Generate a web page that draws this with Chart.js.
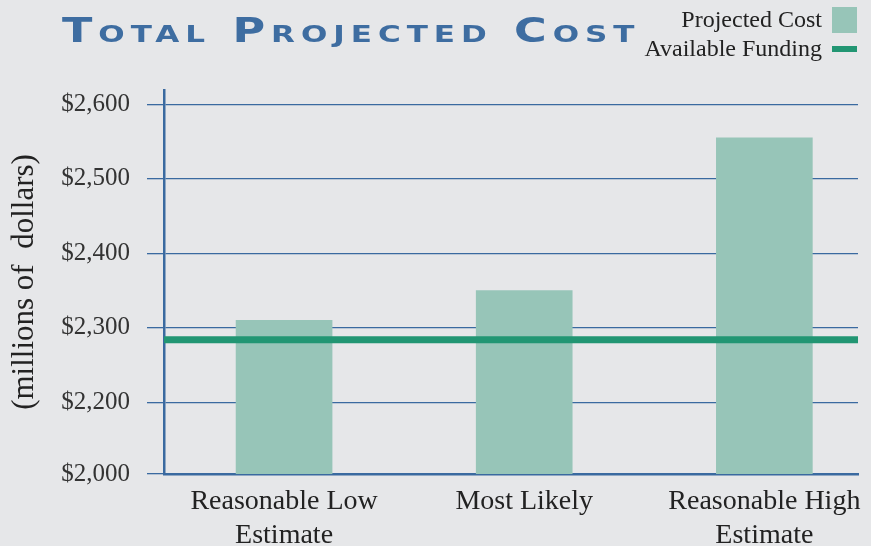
<!DOCTYPE html>
<html>
<head>
<meta charset="utf-8">
<script src="https://cdn.jsdelivr.net/npm/chart.js@4.4.0/dist/chart.umd.min.js"></script>
<style>
  html, body { margin: 0; padding: 0; background: #e6e7e9; }
  #wrap { position: relative; width: 871px; height: 546px; overflow: hidden; }
  #title {
    position: absolute; left: 62px; top: 11px;
    font-family: "DejaVu Sans", sans-serif; font-weight: bold;
    font-variant: small-caps; font-size: 33px; letter-spacing: 4.4px;
    transform: scaleX(1.35); transform-origin: left top;
    color: #3e6da1; white-space: nowrap;
  }
  .leg {
    position: absolute; right: 49px; font-family: "Liberation Serif", serif;
    font-size: 24px; color: #222; white-space: nowrap;
  }
  .sw { position: absolute; left: 832px; width: 25px; }
</style>
</head>
<body>
<div id="wrap">
  <canvas id="chartCanvas" width="871" height="546"></canvas>
  <div id="title">Total Projected Cost</div>
  <div class="leg" style="top:6px;">Projected Cost</div>
  <div class="sw" style="top:7px;height:26px;background:#97c5b8;"></div>
  <div class="leg" style="top:35px;">Available Funding</div>
  <div class="sw" style="top:46px;height:6px;background:#229673;"></div>
</div>
<script>
const categories = [['Reasonable Low', 'Estimate'], ['Most Likely'], ['Reasonable High', 'Estimate']];
const projectedCost = [2310, 2350, 2555];
const availableFunding = 2284;
const yTickValues = [2104, 2200, 2300, 2400, 2500, 2600];
const yTickLabels = ['$2,000', '$2,200', '$2,300', '$2,400', '$2,500', '$2,600'];

const blue = '#3a6aa0';
const ctx = document.getElementById('chartCanvas').getContext('2d');

const chart = new Chart(ctx, {
  data: {
    datasets: [{
      type: 'line',
      label: 'Available Funding',
      data: [{ x: -0.5, y: availableFunding }, { x: 2.39, y: availableFunding }],
      borderColor: '#229673',
      borderWidth: 7,
      pointRadius: 0,
      order: 0
    }, {
      type: 'bar',
      label: 'Projected Cost',
      data: projectedCost.map((v, i) => ({ x: i, y: v })),
      backgroundColor: '#97c5b8',
      barThickness: 96,
      order: 1
    }]
  },
  options: {
    responsive: false,
    animation: false,
    layout: { padding: { top: 90, right: 13, left: 0, bottom: 0 } },
    plugins: { legend: { display: false }, tooltip: { enabled: false } },
    scales: {
      x: {
        type: 'linear',
        min: -0.5,
        max: 2.39,
        offset: false,
        afterBuildTicks: s => { s.ticks = categories.map((c, i) => ({ value: i })); },
        afterFit: s => { s.height = 72; },
        grid: { display: false, offset: false },
        border: { color: blue, width: 2.5 },
        ticks: {
          autoSkip: false,
          maxRotation: 0,
          padding: 3,
          color: '#222',
          font: { family: 'Liberation Serif', size: 28, lineHeight: 1.2 },
          callback: (v, i) => categories[i]
        }
      },
      y: {
        min: 2104,
        max: 2619,
        afterBuildTicks: s => { s.ticks = yTickValues.map(v => ({ value: v })); },
        afterFit: s => { s.width = 164; },
        grid: { color: blue, lineWidth: 1.3, tickLength: 17 },
        border: { color: blue, width: 2.5 },
        ticks: {
          padding: 17,
          color: '#333',
          font: { family: 'Liberation Serif', size: 25 },
          callback: (v, i) => yTickLabels[i]
        },
        title: {
          display: true,
          text: '(millions of  dollars)',
          color: '#222',
          font: { family: 'Liberation Serif', size: 31 },
          padding: { top: 6, bottom: 0 }
        }
      }
    }
  }
});
</script>
</body>
</html>
